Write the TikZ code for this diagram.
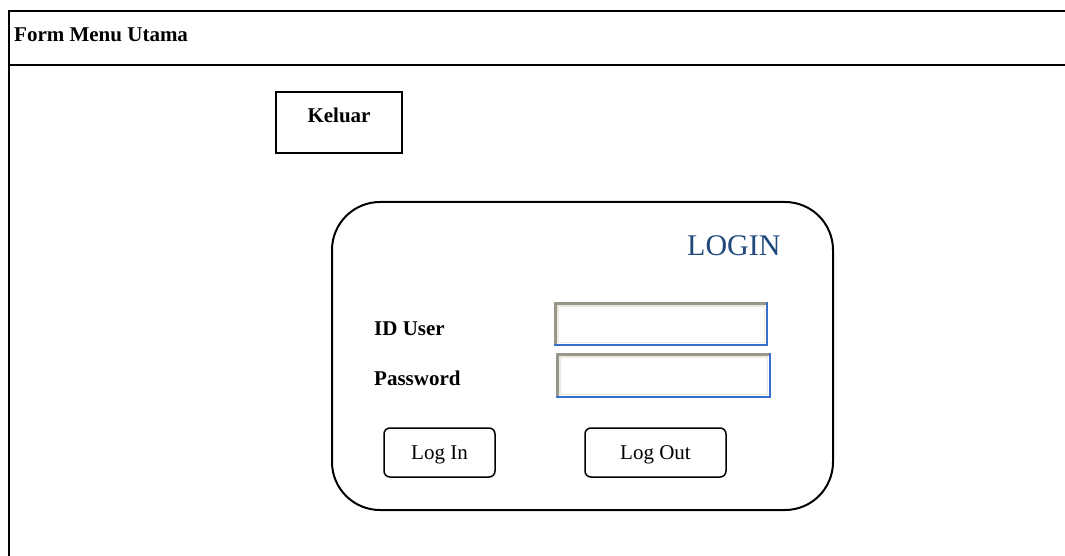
\documentclass[tikz,border=0pt]{standalone}
\usepackage{fontspec}
\setmainfont{Liberation Serif}
\definecolor{logintext}{RGB}{31,73,125}
\definecolor{fieldgray}{RGB}{152,150,136}
\definecolor{fieldlight}{RGB}{236,234,222}
\definecolor{fieldblue}{RGB}{58,110,205}

\begin{document}
\begin{tikzpicture}[x=1pt, y=-1pt,
    label/.style={font=\fontsize{21}{25}\selectfont\bfseries, inner sep=0pt},
    button/.style={draw, line width=1.5pt, rounded corners=6pt, minimum height=49pt, text depth=0pt, font=\fontsize{21}{25}\selectfont},
    field/.style={fill=white, inner sep=0pt}]
      \useasboundingbox (0, 0) rectangle (1065, 556);

      \draw[line width=2pt] (1065, 11) -- (9, 11) -- (9, 556);
      \draw[line width=2pt] (9, 65) -- (1065, 65);
      \node[label, anchor=base west] (title) at (14, 42) {Form Menu Utama};

      \node[draw, line width=1.5pt, minimum width=126pt, minimum height=61pt] (keluarbox) at (339, 122.5) {};
      \node[label, anchor=base] (keluar) at (339, 123) {Keluar};

      \node[draw, line width=2pt, rounded corners=48pt, minimum width=501pt, minimum height=308pt] (loginbox) at (582.5, 356) {};
      \node[anchor=base west, inner sep=0pt, text=logintext, font=\fontsize{30}{36}\selectfont] (logintitle) at (687, 255) {LOGIN};

      \node[label, anchor=base west] (iduser) at (374, 335) {ID User};
      \node[label, anchor=base west] (password) at (374, 385) {Password};
      \node[field, minimum width=213pt, minimum height=43pt] (iduserfield) at (660.5, 323.5) {};
      \node[field, minimum width=214pt, minimum height=44pt] (passwordfield) at (663, 375) {};
      \foreach \f in {iduserfield, passwordfield} {
        \draw[fieldlight, line width=1.5pt] ([shift={(4, 4)}]\f.north west) rectangle ([shift={(-2.5, -2.5)}]\f.south east);
        \draw[fieldgray, line width=3.5pt] ([shift={(1.5, 0)}]\f.south west) |- ([shift={(0, 1.5)}]\f.north east);
        \draw[fieldblue, line width=2pt] (\f.south west) -| (\f.north east);
      }

      \node[button, minimum width=111pt] (login) at (439.5, 452.5) {Log In};
      \node[button, minimum width=141pt] (logout) at (655.5, 452.5) {Log Out};
    \end{tikzpicture}
\end{document}
